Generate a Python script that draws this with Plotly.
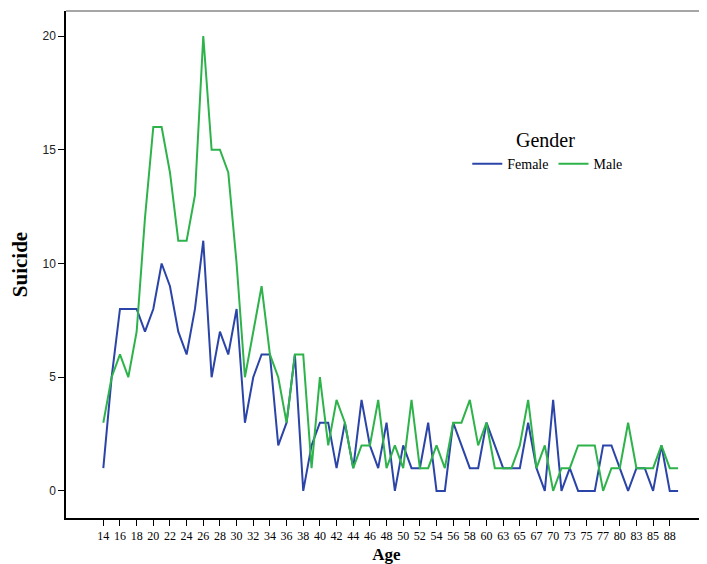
import plotly.graph_objects as go

ages = ["14", "15", "16", "17", "18", "19", "20", "21", "22", "23", "24", "25", "26", "27",
        "28", "29", "30", "31", "32", "33", "34", "35", "36", "37", "38", "39", "40", "41",
        "42", "43", "44", "45", "46", "47", "48", "49", "50", "51", "52", "53", "54", "55",
        "56", "57", "58", "59", "60", "62", "63", "64", "65", "66", "67", "68", "70", "72",
        "73", "74", "75", "76", "77", "79", "80", "82", "83", "84", "85", "86", "88", "89"]

female = [1, 5, 8, 8, 8, 7, 8, 10, 9, 7, 6, 8, 11, 5, 7, 6, 8, 3,
          5, 6, 6, 2, 3, 6, 0, 2, 3, 3, 1, 3, 1, 4, 2, 1, 3, 0,
          2, 1, 1, 3, 0, 0, 3, 2, 1, 1, 3, 2, 1, 1, 1, 3, 1, 0,
          4, 0, 1, 0, 0, 0, 2, 2, 1, 0, 1, 1, 0, 2, 0, 0]

male = [3, 5, 6, 5, 7, 12, 16, 16, 14, 11, 11, 13, 20, 15, 15, 14, 10, 5,
        7, 9, 6, 5, 3, 6, 6, 1, 5, 2, 4, 3, 1, 2, 2, 4, 1, 2,
        1, 4, 1, 1, 2, 1, 3, 3, 4, 2, 3, 1, 1, 1, 2, 4, 1, 2,
        0, 1, 1, 2, 2, 2, 0, 1, 1, 3, 1, 1, 1, 2, 1, 1]

tick_labels = ages[::2]

BLUE = "#2b44a8"
GREEN = "#2eb34b"
SERIF = "Liberation Serif, Times New Roman, serif"
SANS = "Liberation Sans, Arial, sans-serif"

fig = go.Figure()
fig.add_trace(go.Scatter(x=ages, y=female, mode="lines", name="Female",
                         line=dict(color=BLUE, width=2)))
fig.add_trace(go.Scatter(x=ages, y=male, mode="lines", name="Male",
                         line=dict(color=GREEN, width=2)))

# page body has an 8px margin: size the figure so the plot frame lands where the reference has it
fig.update_layout(
    width=699, height=556,
    margin=dict(l=58, r=0, t=3, b=46),
    paper_bgcolor="white", plot_bgcolor="white",
    showlegend=True,
    legend=dict(orientation="h", x=0.626, y=0.698, xanchor="left", yanchor="middle",
                font=dict(family=SERIF, size=14, color="black"),
                bgcolor="rgba(0,0,0,0)", itemwidth=30, tracegroupgap=0),
    xaxis=dict(type="category", categoryorder="array", categoryarray=ages,
               range=[-4.48, 72.47], tickmode="array", tickvals=tick_labels,
               ticktext=tick_labels, ticks="outside", ticklen=6, tickwidth=1,
               tickcolor="black", showline=True, linecolor="black", linewidth=1.5,
               showgrid=False, zeroline=False,
               tickfont=dict(family=SERIF, size=12, color="black"),
               title=dict(text="<b>Age</b>", font=dict(family=SERIF, size=17, color="black"),
                          standoff=10)),
    yaxis=dict(range=[-1.19, 21.1], tickvals=[0, 5, 10, 15, 20], ticks="outside",
               ticklen=6, tickwidth=1, tickcolor="black", showline=True,
               linecolor="black", linewidth=1.5, showgrid=False, zeroline=False,
               tickfont=dict(family=SANS, size=12, color="#222222"),
               title=dict(text="<b>Suicide</b>", font=dict(family=SERIF, size=21, color="black"),
                          standoff=9)),
    annotations=[dict(text="Gender", x=0.748, y=0.745, xref="paper", yref="paper",
                      xanchor="center", yanchor="middle", showarrow=False,
                      font=dict(family=SERIF, size=20, color="black"))],
    shapes=[dict(type="line", xref="paper", yref="paper", x0=0, x1=1, y0=1, y1=1,
                 line=dict(color="#888888", width=1.5))],
)

fig.write_html("out.html")
